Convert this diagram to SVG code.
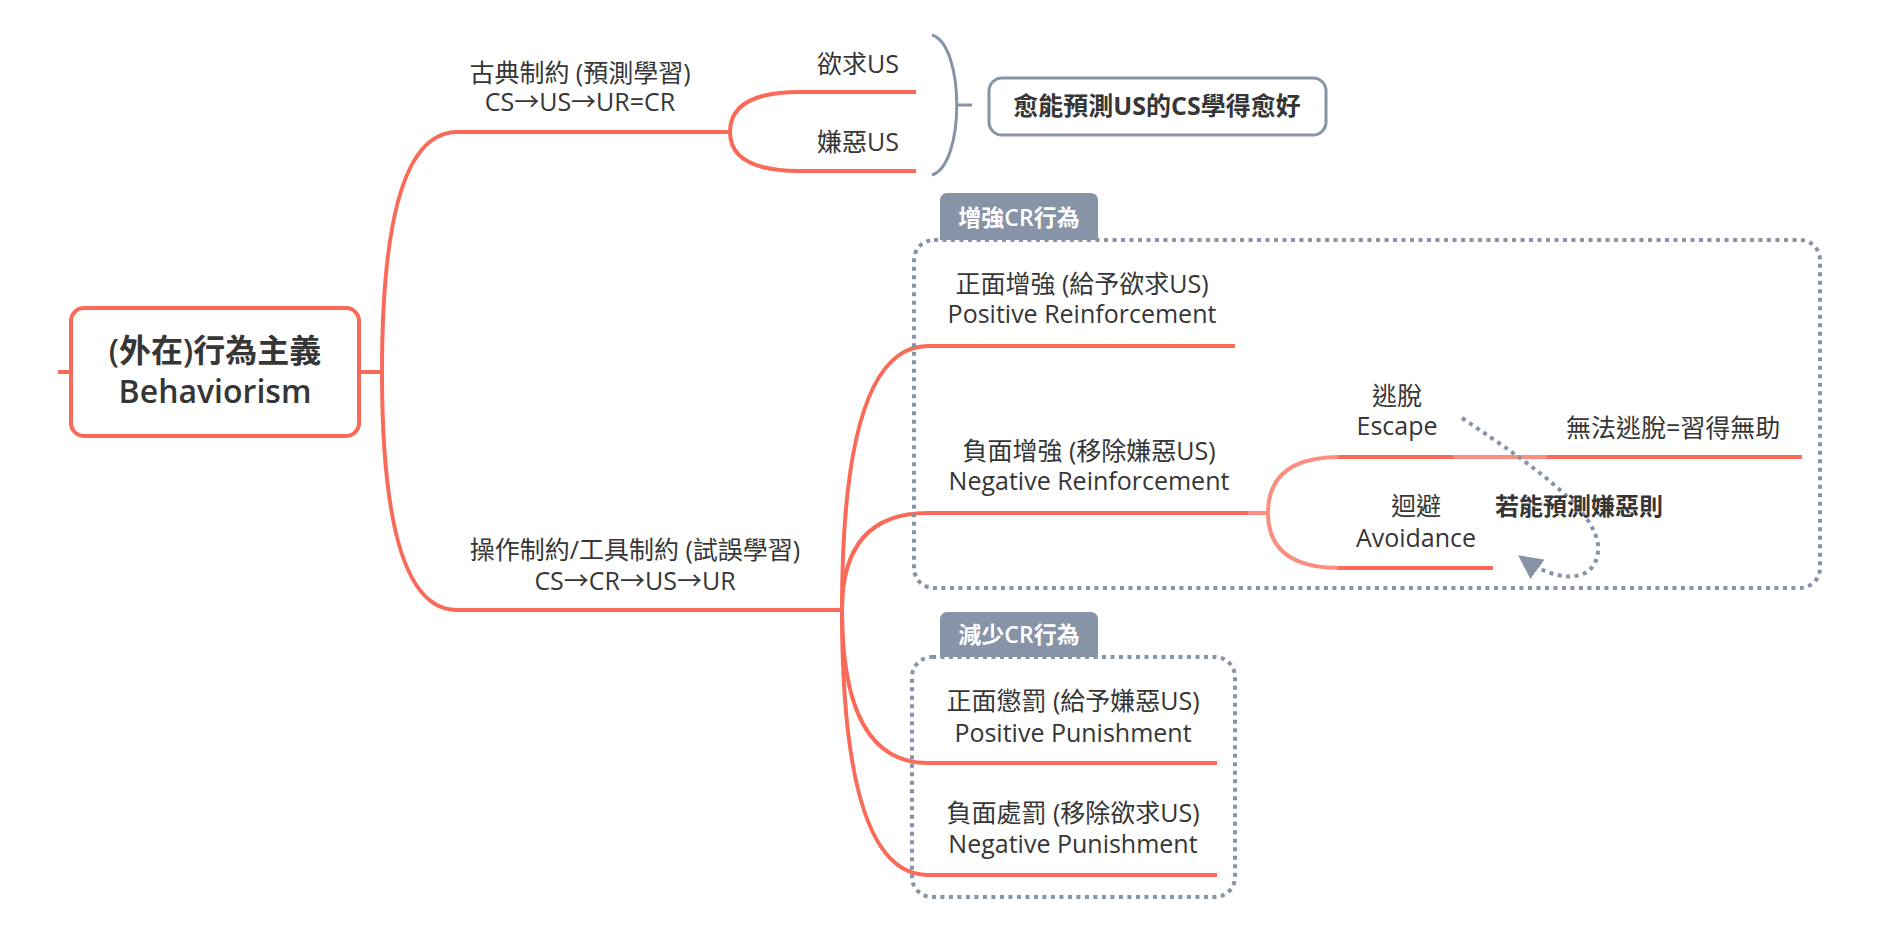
<svg xmlns="http://www.w3.org/2000/svg" width="1899" height="943" viewBox="0 0 1899 943">
<style>
text{font-family:"Open Sans","Noto Sans CJK TC",sans-serif;fill:#363636;font-size:25px}
.c{text-anchor:middle}
.b{font-weight:700}
.ln{fill:none;stroke:#FA6A58;stroke-width:4}
.lt{fill:none;stroke:#FA8E80;stroke-width:4}
.dot{fill:none;stroke:#8793A6;stroke-width:4;stroke-dasharray:4 4.5}
.tab{fill:#8793A6}
.tabt{fill:#fff;font-size:23px;font-weight:600;text-anchor:middle}
</style>
<defs>
<marker id="ah" viewBox="0 0 10 10" refX="8" refY="5" markerWidth="6" markerHeight="6" orient="auto" markerUnits="strokeWidth">
<path d="M0,0 L10,5 L0,10 z" fill="#8793A6"/>
</marker>
</defs>
<rect width="1899" height="943" fill="#fff"/>
<g id="connectors">
<path class="ln" d="M58,372 H71"/>
<path class="ln" d="M359,372 H382"/>
<path class="ln" d="M382,372 Q382,132 457,132 H730"/>
<path class="ln" d="M382,372 Q382,610 457,610 H842"/>
<path class="ln" d="M730,132 Q730,92 800,92 H916"/>
<path class="ln" d="M730,132 Q730,171 800,171 H916"/>
<path class="ln" d="M842,610 Q842,346 928,346 H1235"/>
<path class="ln" d="M842,610 Q842,513 928,513 H1250"/>
<path class="lt" d="M1248,513 H1268"/>
<path class="ln" d="M842,610 Q842,763 928,763 H1217"/>
<path class="ln" d="M842,610 Q842,875 928,875 H1217"/>
<path class="lt" d="M1268,513 Q1268,457 1340,457"/>
<path class="lt" d="M1268,513 Q1268,568 1340,568"/>
<path class="ln" d="M1338,457 H1455"/>
<path class="lt" d="M1453,457 H1549"/>
<path class="ln" d="M1547,457 H1802"/>
<path class="ln" d="M1338,568 H1493"/>
<path fill="none" stroke="#8793A6" stroke-width="3" d="M932,35 C965,45 965,165 932,175"/>
<path fill="none" stroke="#8793A6" stroke-width="3" d="M957,105 H972"/>
<path fill="none" stroke="#8793A6" stroke-width="4" stroke-dasharray="4 4.5" d="M1462,418 C1540,470 1602,515 1598,552 C1594,585 1555,582 1522,558" marker-end="url(#ah)"/>
</g>
<g id="root">
<rect x="71" y="308" width="288" height="128" rx="13" fill="#fff" stroke="#FA6A58" stroke-width="4"/>
<text class="c" x="215" y="362" style="font-size:32px;font-weight:600">(外在)行為主義</text>
<text class="c" x="215" y="403" style="font-size:32px;font-weight:600">Behaviorism</text>
</g>
<g id="classical">
<text class="c" x="580" y="82">古典制約 (預測學習)</text>
<text class="c" x="580" y="111">CS→US→UR=CR</text>
</g>
<g id="appetitive-us"><text x="817" y="73">欲求US</text></g>
<g id="aversive-us"><text x="817" y="151">嫌惡US</text></g>
<g id="summary">
<rect x="989" y="78" width="337" height="57" rx="13" fill="#fff" stroke="#8793A6" stroke-width="3"/>
<text class="c b" x="1157" y="115">愈能預測US的CS學得愈好</text>
</g>
<g id="operant">
<text class="c" x="635" y="559">操作制約/工具制約 (試誤學習)</text>
<text class="c" x="635" y="590">CS→CR→US→UR</text>
</g>
<g id="boundary-increase">
<rect class="dot" x="914" y="240" width="906" height="348" rx="20"/>
<path class="tab" d="M940,240 V201 Q940,193 948,193 H1090 Q1098,193 1098,201 V240 z"/>
<text class="tabt" x="1019" y="226">增強CR行為</text>
</g>
<g id="boundary-decrease">
<rect class="dot" x="912" y="657" width="323" height="240" rx="20"/>
<path class="tab" d="M940,657 V620 Q940,612 948,612 H1090 Q1098,612 1098,620 V657 z"/>
<text class="tabt" x="1019" y="643">減少CR行為</text>
</g>
<g id="positive-reinforcement">
<text class="c" x="1082" y="293">正面增強 (給予欲求US)</text>
<text class="c" x="1082" y="323">Positive Reinforcement</text>
</g>
<g id="negative-reinforcement">
<text class="c" x="1089" y="460">負面增強 (移除嫌惡US)</text>
<text class="c" x="1089" y="490">Negative Reinforcement</text>
</g>
<g id="escape">
<text class="c" x="1397" y="405">逃脫</text>
<text class="c" x="1397" y="435">Escape</text>
</g>
<g id="helplessness"><text x="1566" y="437">無法逃脫=習得無助</text></g>
<g id="avoidance">
<text class="c" x="1416" y="515">迴避</text>
<text class="c" x="1416" y="547">Avoidance</text>
</g>
<g id="if-predict"><text class="b" x="1495" y="515" style="font-size:24px">若能預測嫌惡則</text></g>
<g id="positive-punishment">
<text class="c" x="1073" y="710">正面懲罰 (給予嫌惡US)</text>
<text class="c" x="1073" y="742">Positive Punishment</text>
</g>
<g id="negative-punishment">
<text class="c" x="1073" y="822">負面處罰 (移除欲求US)</text>
<text class="c" x="1073" y="853">Negative Punishment</text>
</g>
</svg>
